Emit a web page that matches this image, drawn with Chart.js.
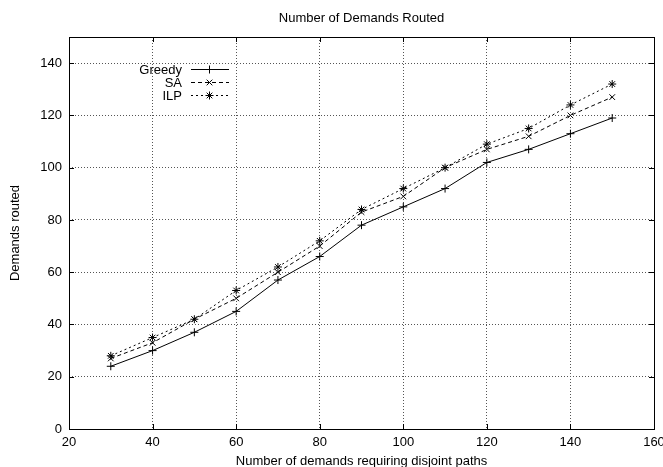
<!DOCTYPE html>
<html><head><meta charset="utf-8">
<script src="https://cdn.jsdelivr.net/npm/chart.js@4/dist/chart.umd.min.js"></script>
<style>html,body{margin:0;padding:0;background:#fff}#wrap{width:663px;height:467px}</style>
</head><body><div id="wrap"><canvas id="c"></canvas></div>
<script>
const xValues = [30, 40, 50, 60, 70, 80, 90, 100, 110, 120, 130, 140, 150];
const greedy = [24, 30, 37, 45, 57, 66, 78, 85, 92, 102, 107, 113, 119];
const sa     = [27, 33, 42, 50, 60, 70, 83, 89, 100, 107, 112, 120, 127];
const ilp    = [28, 35, 42, 53, 62, 72, 84, 92, 100, 109, 115, 124, 132];
const xTicks = [20, 40, 60, 80, 100, 120, 140, 160];
const yTicks = [0, 20, 40, 60, 80, 100, 120, 140];
const seriesNames = ['Greedy', 'SA', 'ILP'];
const chartTitle = 'Number of Demands Routed';

const FONT = 'Liberation Sans, Arial, Helvetica, sans-serif';
const FS = 13;
function pts(arr){ return xValues.map((x,i)=>({x:x,y:arr[i]})); }

const borderPlugin = {
  id:'gpBorder',
  afterDraw(chart){
    const ctx = chart.ctx, a = chart.chartArea;
    const xs = chart.scales.x, ys = chart.scales.y;
    ctx.save();
    ctx.strokeStyle = '#000'; ctx.lineWidth = 1; ctx.setLineDash([]);
    ctx.strokeRect(Math.round(a.left)+0.5, Math.round(a.top)+0.5, Math.round(a.right-a.left), Math.round(a.bottom-a.top));
    const L = 5;
    ctx.beginPath();
    xTicks.forEach(v=>{ const px = Math.round(xs.getPixelForValue(v))+0.5;
      ctx.moveTo(px, a.bottom); ctx.lineTo(px, a.bottom-L);
      ctx.moveTo(px, a.top); ctx.lineTo(px, a.top+L); });
    yTicks.forEach(v=>{ const py = Math.round(ys.getPixelForValue(v))+0.5;
      ctx.moveTo(a.left, py); ctx.lineTo(a.left+L, py);
      ctx.moveTo(a.right, py); ctx.lineTo(a.right-L, py); });
    ctx.stroke();
    // title centred over plot area
    ctx.font = FS + 'px ' + FONT;
    ctx.fillStyle = '#000'; ctx.textAlign = 'center'; ctx.textBaseline = 'middle';
    ctx.fillText(chartTitle, (a.left + a.right)/2, 18);
    // legend
    ctx.textAlign = 'right';
    const rows = [69, 82, 95];
    chart.data.datasets.forEach((ds,i)=>{
      const y = rows[i];
      ctx.fillText(ds.label, 182, y+1);
      ctx.beginPath(); ctx.setLineDash(ds.borderDash||[]);
      ctx.strokeStyle='#000'; ctx.lineWidth=1;
      ctx.moveTo(191, y+0.5); ctx.lineTo(229, y+0.5); ctx.stroke();
      ctx.setLineDash([]);
      Chart.helpers.drawPoint(ctx, {pointStyle: ds.pointStyle, radius: ds.pointRadius, rotation:0, borderWidth:1}, 209.5, y+0.5);
    });
    ctx.restore();
  }
};

const common = {borderColor:'#000', backgroundColor:'#000', borderWidth:1, pointRadius:4, pointBorderWidth:1, pointBorderColor:'#000', fill:false, tension:0};

new Chart(document.getElementById('c'), {
  type:'line',
  data:{ datasets:[
    Object.assign({label:seriesNames[0], data:pts(greedy), pointStyle:'cross', borderDash:[]}, common),
    Object.assign({label:seriesNames[1], data:pts(sa), pointStyle:'crossRot', borderDash:[4,3]}, common),
    Object.assign({label:seriesNames[2], data:pts(ilp), pointStyle:'star', borderDash:[2,3]}, common)
  ]},
  options:{
    responsive:true, maintainAspectRatio:false, animation:false,
    layout:{padding:{left:0,right:9,top:37,bottom:0}},
    plugins:{ legend:{display:false}, tooltip:{enabled:false}, title:{display:false} },
    scales:{
      x:{type:'linear', min:20, max:160,
        afterBuildTicks(s){ s.ticks = xTicks.map(v=>({value:v})); },
        afterFit(s){ s.height = 38; s.paddingLeft = 0; s.paddingRight = 0; },
        ticks:{color:'#000', font:{family:FONT,size:FS}, padding:6, maxRotation:0, autoSkip:false},
        grid:{color:'#555', drawTicks:false, lineWidth:1},
        border:{display:false, dash:[1,2]},
        title:{display:true, text:'Number of demands requiring disjoint paths', color:'#000', font:{family:FONT,size:FS,lineHeight:0.8}, padding:{top:0,bottom:0}}
      },
      y:{type:'linear', min:0, max:150,
        afterBuildTicks(s){ s.ticks = yTicks.map(v=>({value:v})); },
        afterFit(s){ s.width = 69; s.paddingTop = 0; s.paddingBottom = 0; },
        ticks:{color:'#000', font:{family:FONT,size:FS}, padding:7, autoSkip:false},
        grid:{color:'#555', drawTicks:false, lineWidth:1},
        border:{display:false, dash:[1,2]},
        title:{display:true, text:'Demands routed', color:'#000', font:{family:FONT,size:FS}, padding:{top:8,bottom:0}}
      }
    }
  },
  plugins:[borderPlugin]
});
</script></body></html>
